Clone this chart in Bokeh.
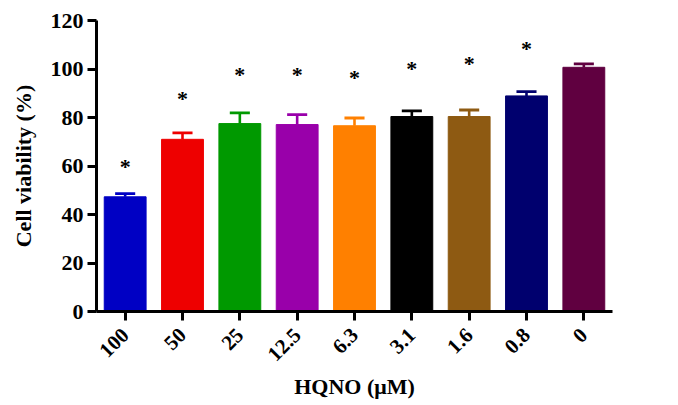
import math
from bokeh.plotting import figure
from bokeh.models import ColumnDataSource, FactorRange, Range1d
from bokeh.embed import file_html
from bokeh.resources import INLINE

concentrations = ["100", "50", "25", "12.5", "6.3", "3.1", "1.6", "0.8", "0"]
viability = [47.3, 71.0, 77.5, 77.1, 76.6, 80.4, 80.4, 88.9, 100.7]
sd = [1.3, 2.7, 4.4, 4.1, 3.2, 2.3, 2.7, 1.8, 1.4]
colors = ["#0000C4", "#EE0000", "#009900", "#9900AA", "#FF8000",
          "#000000", "#8E5A12", "#00006E", "#600040"]
star_labels = ["*", "*", "*", "*", "*", "*", "*", "*", ""]
star_y = [60.6, 88.7, 98.6, 98.6, 97.2, 101.1, 103.0, 109.3, 0]
y_ticks = [0, 20, 40, 60, 80, 100, 120]

top = [v + s for v, s in zip(viability, sd)]
src = ColumnDataSource(dict(x=concentrations, v=viability, top=top,
                            c=colors, sy=star_y, st=star_labels))

FONT = "Liberation Serif"

p = figure(width=662, height=403, output_backend="svg", toolbar_location=None,
           x_range=FactorRange(*concentrations, range_padding=0),
           y_range=Range1d(0, 120),
           min_border_left=96, min_border_top=20, min_border_right=50,
           min_border_bottom=92)
p.x_range.factor_padding = 0
p.outline_line_color = None
p.xgrid.visible = False
p.ygrid.visible = False

p.vbar(x="x", top="v", width=0.73, bottom=0, fill_color="c", line_color="c",
       line_width=1, source=src)
p.segment(x0="x", y0="v", x1="x", y1="top", line_color="c", line_width=2.6,
          source=src)
p.rect(x="x", y="top", width=0.35, height=2.8, height_units="screen",
       fill_color="c", line_color=None, source=src)
p.text(x="x", y="sy", text="st", source=src, text_align="center",
       text_baseline="middle", text_font=FONT, text_font_size="22px",
       text_font_style="bold", y_offset=2, text_color="black")

for ax in (p.xaxis[0], p.yaxis[0]):
    ax.axis_line_width = 3
    ax.major_tick_line_width = 3
    ax.major_tick_out = 9
    ax.major_tick_in = 0
    ax.minor_tick_line_color = None
    ax.major_label_text_font = FONT
    ax.major_label_text_font_style = "bold"
    ax.major_label_text_font_size = "22px"
    ax.major_label_text_color = "black"
    ax.axis_label_text_font = FONT
    ax.axis_label_text_font_style = "bold"
    ax.axis_label_text_font_size = "22px"
    ax.axis_label_text_color = "black"
    ax.axis_line_color = "black"
    ax.major_tick_line_color = "black"

p.yaxis.ticker = y_ticks
p.yaxis.major_label_standoff = 4
p.yaxis.axis_label = "Cell viability (%)"
p.yaxis.axis_label_standoff = 12
p.xaxis.axis_label = "HQNO (μM)"
p.xaxis.major_label_text_font_size = "21px"
p.xaxis.major_label_orientation = math.pi / 4
p.xaxis.major_label_standoff = 11
p.xaxis.axis_label_standoff = 4

open("out.html", "w").write(file_html(p, INLINE))
